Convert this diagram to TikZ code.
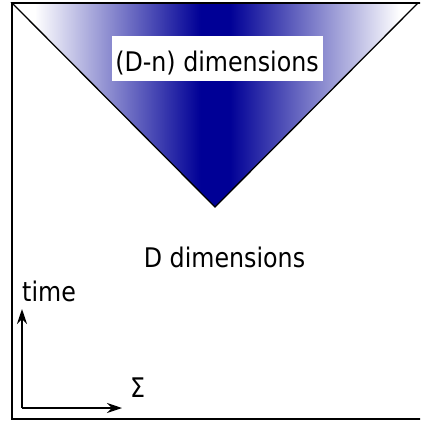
\documentclass[tikz,border=0pt]{standalone}
\usepackage{fontspec}
\newfontfamily\labfont[FakeStretch=0.88]{DejaVu Sans}
\usetikzlibrary{arrows.meta}
\definecolor{dblue}{RGB}{0,0,150}
\pgfdeclarehorizontalshading{wedge}{100bp}{color(0bp)=(white); color(27.8bp)=(white); color(48.2bp)=(dblue); color(51.8bp)=(dblue); color(72.8bp)=(white); color(100bp)=(white)}
\tikzset{
  lab/.style={inner sep=0pt, font=\labfont\fontsize{27}{30}\selectfont},
  axis/.style={line width=1.9pt, -{Stealth[length=15pt,width=10pt,inset=5pt]}},
  frame/.style={line width=2pt},
  cone/.style={draw=black, line width=1.3pt, shading=wedge}
}
\begin{document}
\begin{tikzpicture}[x=1pt,y=-1pt]
\useasboundingbox (0,0) rectangle (420,422);
\begin{scope}
\clip (0,0) rectangle (420,422);
\path[cone] (12,3) -- (418,3) -- (215,207) -- cycle;
\draw[frame] (430,3) -- (12,3) -- (12,419) -- (430,419);
\end{scope}
\node[fill=white, minimum width=211pt, minimum height=45pt, inner sep=0pt] (box) at (217.5,58.5) {};
\node[lab, anchor=base] (top) at (217,72) {(D-n) dimensions};
\node[lab, anchor=base] (full) at (224.5,267) {D dimensions};
\coordinate (o) at (22,408);
\coordinate (ty) at (22,309);
\coordinate (tx) at (122,408);
\draw[axis] (o) -- (ty);
\draw[axis] (o) -- (tx);
\node[lab, anchor=base west] (time) at (22,301) {time};
\node[lab, anchor=base west] (sig) at (130,397) {Σ};
\end{tikzpicture}
\end{document}
